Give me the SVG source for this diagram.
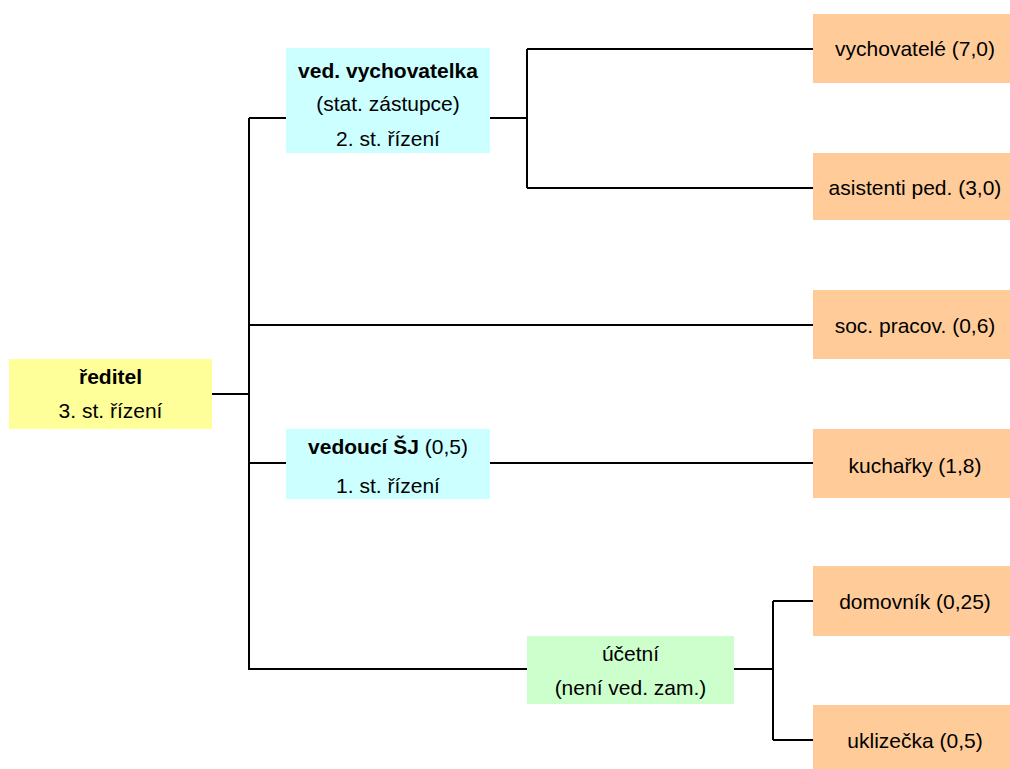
<svg xmlns="http://www.w3.org/2000/svg" width="1010" height="769" viewBox="0 0 1010 769">
<style>
text{font-family:"Liberation Sans",Arial,sans-serif;font-size:21px;fill:#000;text-anchor:middle}
.b{font-weight:bold}
.conn{fill:none;stroke:#000;stroke-width:2}
.y{fill:#FFFF99}.c{fill:#CCFFFF}.g{fill:#CCFFCC}.o{fill:#FFCC99}
</style>
<rect width="1010" height="769" fill="#fff"/>
<g id="connectors">
<path class="conn" d="M212 394H249M249 118V670M249 118H286M490 118H527M527 49V188M527 49H813M527 188H813M249 325H813M249 463H286M490 463H813M249 669H527M734 669H773M773 601V740M773 601H813M773 740H813"/>
</g>
<g id="reditel"><rect class="y" x="9" y="359" width="203" height="70"/><text x="110.5" y="384" class="b">ředitel</text><text x="110.5" y="418">3. st. řízení</text></g>
<g id="ved-vychovatelka"><rect class="c" x="286" y="48" width="204" height="105"/><text x="388" y="78" class="b">ved. vychovatelka</text><text x="388" y="111">(stat. zástupce)</text><text x="388" y="146">2. st. řízení</text></g>
<g id="vedouci-sj"><rect class="c" x="286" y="429" width="204" height="70"/><text x="388" y="454"><tspan class="b">vedoucí ŠJ</tspan> (0,5)</text><text x="388" y="493">1. st. řízení</text></g>
<g id="ucetni"><rect class="g" x="527" y="636" width="207" height="68"/><text x="630.5" y="661">účetní</text><text x="630.5" y="695">(není ved. zam.)</text></g>
<g id="vychovatele"><rect class="o" x="813" y="14" width="204" height="69"/><text x="915" y="56">vychovatelé (7,0)</text></g>
<g id="asistenti"><rect class="o" x="813" y="153" width="204" height="67"/><text x="915" y="195">asistenti ped. (3,0)</text></g>
<g id="soc"><rect class="o" x="813" y="290" width="204" height="69"/><text x="915" y="333">soc. pracov. (0,6)</text></g>
<g id="kucharky"><rect class="o" x="813" y="429" width="204" height="69"/><text x="915" y="473">kuchařky (1,8)</text></g>
<g id="domovnik"><rect class="o" x="813" y="566" width="204" height="70"/><text x="915" y="609">domovník (0,25)</text></g>
<g id="uklizecka"><rect class="o" x="813" y="705" width="204" height="70"/><text x="915" y="748">uklizečka (0,5)</text></g>
</svg>
